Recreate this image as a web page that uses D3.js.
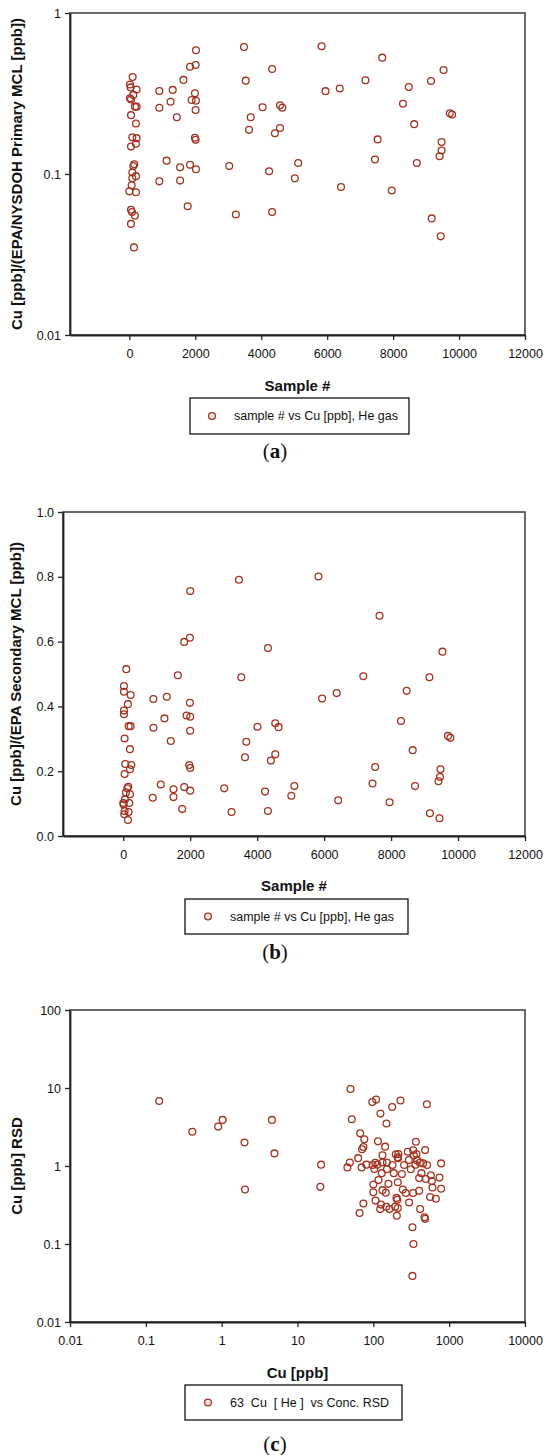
<!DOCTYPE html>
<html><head><meta charset="utf-8">
<script src="https://cdn.jsdelivr.net/npm/d3@7"></script>
<style>
body{margin:0;background:#fff}
text{font-family:"Liberation Sans",Arial,sans-serif;fill:#111}
</style></head>
<body><svg id="chart" width="550" height="1455"></svg>
<script>
// ---------- Panel (a): sample # vs Cu / primary MCL (log) ----------
const aSample = [100,20,40,220,120,20,50,170,220,50,200,90,220,50,200,150,120,90,200,90,70,0,200,50,80,170,50,140,
  910,1315,1250,910,1440,1640,1840,2010,2020,1990,1890,2020,2010,1990,2010,1130,1540,1840,2020,910,1540,1770,
  3475,3530,3680,3630,3030,3230,4330,4240,4330,4415,
  5830,7670,9530,7160,9150,5950,6380,8475,4040,4570,4640,8300,9720,9790,4570,8640,7530,9470,9470,9410,5120,5020,7450,8720,6420,7960,9170,9445];
const aRatio = [0.40,0.36,0.345,0.335,0.31,0.295,0.29,0.262,0.262,0.232,0.206,0.169,0.167,0.148,0.154,0.115,0.112,0.102,0.097,0.094,0.085,0.078,0.077,0.060,0.058,0.055,0.049,0.035,
  0.328,0.333,0.281,0.258,0.225,0.384,0.464,0.475,0.587,0.317,0.288,0.285,0.25,0.168,0.163,0.121,0.110,0.114,0.107,0.090,0.091,0.063,
  0.615,0.38,0.225,0.188,0.112,0.056,0.449,0.104,0.058,0.179,
  0.621,0.528,0.443,0.382,0.378,0.327,0.34,0.347,0.26,0.267,0.258,0.273,0.238,0.234,0.193,0.204,0.164,0.158,0.14,0.129,0.117,0.094,0.123,0.117,0.083,0.079,0.053,0.041];

// ---------- Panel (b): sample # vs Cu / secondary MCL (linear) ----------
const bSample = [90,20,20,220,140,20,20,160,220,40,200,60,240,200,40,150,120,80,200,50,0,180,10,40,160,30,140,
  900,1300,1230,900,1420,1630,1820,1990,2000,1990,1890,2000,2000,1970,2000,1120,1500,1820,2000,880,1500,1760,
  3455,3525,3675,3635,3015,3235,4010,4235,4320,4410,4320,4540,4640,4540,
  5830,7655,9535,7170,9145,8465,5940,6375,8295,9700,9770,8645,7525,7445,8715,9475,9460,9415,5110,5020,6420,7955,9160,9445];
const bRatio = [0.515,0.463,0.445,0.435,0.407,0.387,0.376,0.339,0.339,0.301,0.268,0.222,0.219,0.206,0.191,0.152,0.147,0.134,0.129,0.113,0.102,0.102,0.097,0.077,0.074,0.067,0.049,
  0.423,0.43,0.363,0.334,0.293,0.496,0.599,0.612,0.756,0.411,0.372,0.368,0.325,0.219,0.21,0.159,0.144,0.151,0.14,0.118,0.12,0.083,
  0.791,0.49,0.291,0.243,0.147,0.074,0.337,0.137,0.58,0.233,0.077,0.348,0.336,0.252,
  0.801,0.68,0.569,0.493,0.49,0.448,0.424,0.441,0.355,0.309,0.303,0.265,0.213,0.162,0.154,0.206,0.182,0.169,0.154,0.124,0.11,0.104,0.07,0.055];

// ---------- Panel (c): Cu concentration vs RSD (log-log) ----------
const cConc = [0.15,0.41,0.9,1.03,2.0,2.03,4.6,4.96,
  20.5,20,50,52,97,109,177,228,508,124,149,67,76,71,74,115,143,364,482,132,198,214,212,
  285,335,370,342,294,378,410,454,513,784,
  49,45.5,63,70,81,98,106,113,132,151,179,255,210,
  103,129,151,186,238,312,359,
  402,431,493,574,591,745,784,602,
  117,100,158,210,
  100,132,146,245,268,335,296,402,
  107,202,207,561,667,74,66,
  126,123,148,163,194,210,204,414,472,482,328,338,328];
const cRSD = [6.8,2.75,3.2,3.9,2.0,0.5,3.9,1.45,
  1.04,0.54,9.7,3.97,6.6,7.1,5.7,6.9,6.2,4.7,3.5,2.62,2.2,1.64,1.75,2.07,1.77,2.05,1.6,1.37,1.41,1.42,1.26,
  1.52,1.59,1.42,1.37,1.19,1.18,1.1,1.08,1.03,1.08,
  1.11,0.96,1.26,0.96,1.04,1.03,1.1,1.04,1.11,1.11,1.03,1.03,1.29,
  0.915,0.81,0.91,0.81,0.79,0.91,1.04,
  0.70,0.81,0.68,0.76,0.64,0.71,0.51,0.53,
  0.66,0.58,0.59,0.62,
  0.46,0.49,0.455,0.5,0.45,0.45,0.34,0.48,
  0.36,0.39,0.37,0.4,0.38,0.33,0.25,
  0.32,0.28,0.3,0.28,0.3,0.29,0.23,0.28,0.22,0.21,0.164,0.1,0.039];

// tick values / labels
const sampleTicks = [0,2000,4000,6000,8000,10000,12000];
const aYTicks = [0.01,0.1,1];
const bYTicks = [0,0.2,0.4,0.6,0.8,1.0];
const cXTicks = [0.01,0.1,1,10,100,1000,10000];
const cYTicks = [0.01,0.1,1,10,100];

const svg = d3.select("#chart");
const MARK = "#a3321f";

function fmtLog(d){ return d >= 1 ? d3.format("d")(d) : String(+d.toPrecision(1)); }

function panel(o){
  const g = svg.append("g");
  const x = o.xScale.range([o.left, o.right]);
  const y = o.yScale.range([o.bottom, o.top]);
  // frame
  g.append("rect").attr("x",o.left).attr("y",o.top)
    .attr("width",o.right-o.left).attr("height",o.bottom-o.top)
    .attr("fill","none").attr("stroke","#444").attr("stroke-width",1.6);
  // x axis
  const xa = g.append("g").attr("transform",`translate(0,${o.bottom})`)
    .call(d3.axisBottom(x).tickValues(o.xTicks).tickFormat(o.xFmt).tickSizeOuter(0).tickSizeInner(5).tickPadding(9));
  const ya = g.append("g").attr("transform",`translate(${o.left},0)`)
    .call(d3.axisLeft(y).tickValues(o.yTicks).tickFormat(o.yFmt).tickSizeOuter(0).tickSizeInner(5).tickPadding(4));
  [xa,ya].forEach(a=>{
    a.select(".domain").attr("stroke","#222").attr("stroke-width",1.8);
    a.selectAll(".tick line").attr("stroke","#222").attr("stroke-width",1.3);
    a.selectAll(".tick text").attr("font-size",12.5).attr("fill","#111")
      .style("font-family","'Liberation Sans',Arial,sans-serif");
  });
  // points
  g.append("g").selectAll("circle").data(o.xs.map((v,i)=>[v,o.ys[i]])).join("circle")
    .attr("cx",d=>x(d[0])).attr("cy",d=>y(d[1])).attr("r",3.4)
    .attr("fill","none").attr("stroke",MARK).attr("stroke-width",1.3);
  // axis titles
  g.append("text").attr("x",(o.left+o.right)/2).attr("y",o.xTitleY)
    .attr("text-anchor","middle").attr("font-size",15).attr("font-weight","bold").text(o.xTitle);
  g.append("text").attr("transform",`translate(${o.yTitleX},${(o.top+o.bottom)/2}) rotate(-90)`)
    .attr("text-anchor","middle").attr("dominant-baseline","middle")
    .attr("font-size",15).attr("font-weight","bold").text(o.yTitle);
  // legend
  const L = o.legend;
  g.append("rect").attr("x",L.x).attr("y",L.y).attr("width",L.w).attr("height",L.h)
    .attr("fill","#fff").attr("stroke","#111").attr("stroke-width",1.3);
  g.append("circle").attr("cx",L.mx).attr("cy",L.y+L.h/2).attr("r",3.4)
    .attr("fill","#fbe3e3").attr("stroke",MARK).attr("stroke-width",1.3);
  g.append("text").attr("x",L.tx).attr("y",L.y+L.h/2).attr("dominant-baseline","central")
    .attr("font-size",12.5).style("white-space","pre").attr("xml:space","preserve").text(L.text);
  // caption
  const cap = g.append("text").attr("x",275).attr("y",o.capY).attr("text-anchor","middle")
    .attr("font-size",21).style("font-family","'Liberation Serif','DejaVu Serif',serif");
  cap.append("tspan").text("(");
  cap.append("tspan").attr("font-weight","bold").text(o.cap);
  cap.append("tspan").text(")");
}

panel({
  left:70,right:525,top:13,bottom:335,
  xScale:d3.scaleLinear().domain([-1800,12000]), yScale:d3.scaleLog().domain([0.01,1]),
  xTicks:sampleTicks, xFmt:d3.format("d"), yTicks:aYTicks, yFmt:fmtLog,
  xs:aSample, ys:aRatio,
  xTitle:"Sample #", xTitleY:391, yTitle:"Cu [ppb]/(EPA/NYSDOH Primary MCL [ppb])", yTitleX:18,
  legend:{x:190,y:398,w:219,h:36,mx:212,tx:234,text:"sample # vs Cu [ppb], He gas"},
  cap:"a", capY:458
});
panel({
  left:63,right:525,top:512,bottom:836,
  xScale:d3.scaleLinear().domain([-1800,12000]), yScale:d3.scaleLinear().domain([0,1]),
  xTicks:sampleTicks, xFmt:d3.format("d"), yTicks:bYTicks, yFmt:d3.format(".1f"),
  xs:bSample, ys:bRatio,
  xTitle:"Sample #", xTitleY:891, yTitle:"Cu [ppb]/(EPA Secondary MCL [ppb])", yTitleX:17,
  legend:{x:185,y:899,w:223,h:35,mx:208,tx:230,text:"sample # vs Cu [ppb], He gas"},
  cap:"b", capY:959
});
panel({
  left:70,right:525,top:1010,bottom:1322,
  xScale:d3.scaleLog().domain([0.01,10000]), yScale:d3.scaleLog().domain([0.01,100]),
  xTicks:cXTicks, xFmt:fmtLog, yTicks:cYTicks, yFmt:fmtLog,
  xs:cConc, ys:cRSD,
  xTitle:"Cu [ppb]", xTitleY:1378, yTitle:"Cu [ppb] RSD", yTitleX:18,
  legend:{x:185,y:1385,w:217,h:35,mx:208,tx:230,text:"63  Cu  [ He ]  vs Conc. RSD"},
  cap:"c", capY:1451
});
</script></body></html>
